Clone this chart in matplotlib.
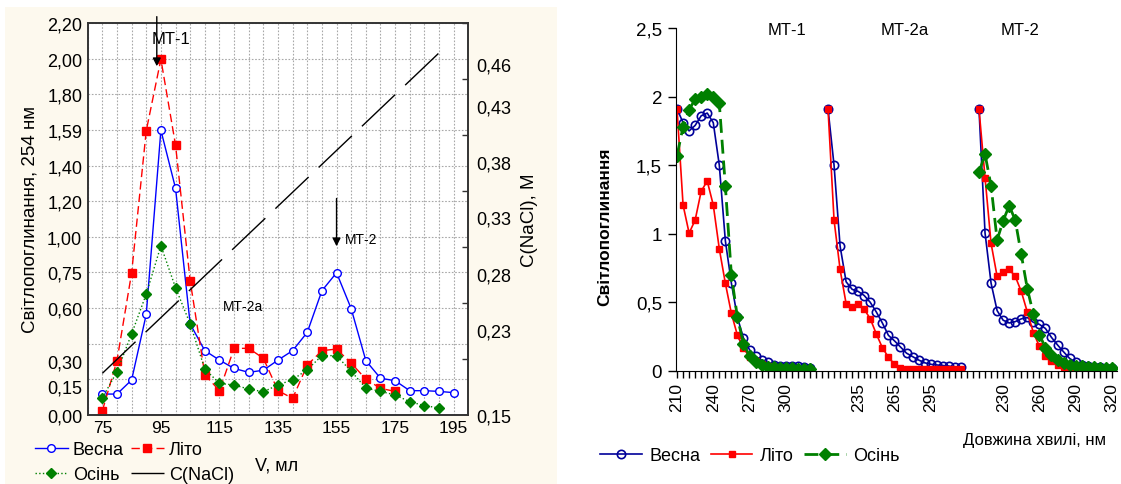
import matplotlib
matplotlib.use('Agg')
import matplotlib.pyplot as plt
import numpy as np
from matplotlib.patches import Rectangle
from matplotlib.ticker import FuncFormatter

plt.rcParams['font.family'] = ['Liberation Sans', 'DejaVu Sans']

# ---- left panel: elution profile ----
volume = [75, 80, 85, 90, 95, 100, 105, 110, 115, 120, 125, 130, 135,
          140, 145, 150, 155, 160, 165, 170, 175, 180, 185, 190, 195]
vesna_abs = [0.116, 0.116, 0.195, 0.564, 1.599, 1.273, 0.51, 0.36, 0.307, 0.26,
             0.238, 0.25, 0.307, 0.36, 0.463, 0.697, 0.798, 0.596, 0.304, 0.205,
             0.191, 0.135, 0.135, 0.131, 0.124]
lito_abs = [0.022, 0.304, 0.797, 1.596, 1.998, 1.516, 0.753, 0.225, 0.135, 0.373,
            0.373, 0.317, 0.135, 0.092, 0.279, 0.36, 0.369, 0.29, 0.2, 0.148, 0.131]
osin_abs = [0.094, 0.242, 0.454, 0.678, 0.95, 0.714, 0.51, 0.257, 0.176, 0.167,
            0.144, 0.129, 0.167, 0.197, 0.253, 0.332, 0.332, 0.244, 0.15, 0.131,
            0.111, 0.073, 0.051, 0.038]
nacl_volume = [75, 193]
nacl_conc = [0.187, 0.481]

left_yticks = [0, 0.163, 0.303, 0.6, 0.8, 1.0, 1.2, 1.4, 1.6, 1.8, 2.0, 2.2]
left_ylabels = ['0,00', '0,15', '0,30', '0,60', '0,75', '1,00', '1,20', '1,40',
                '1,59', '1,80', '2,00', '2,20']
nacl_yticks = [0.15, 0.2257, 0.2758, 0.3265, 0.3757, 0.4263, 0.4636]
nacl_ylabels = ['0,15', '0,23', '0,28', '0,33', '0,38', '0,43', '0,46']

# ---- right panel: absorption spectra of the fractions ----
wavelength = [210, 215, 220, 225, 230, 235, 240, 245, 250, 255, 260, 265,
              270, 275, 280, 285, 290, 295, 300, 305, 310, 315, 320]
fractions = ['МТ-1', 'МТ-2а', 'МТ-2']
vesna_spec = [
    [1.91, 1.81, 1.75, 1.79, 1.86, 1.88, 1.81, 1.50, 0.95, 0.64, 0.39, 0.24,
     0.155, 0.107, 0.08, 0.063, 0.044, 0.04, 0.04, 0.034, 0.034, 0.027, 0.025],
    [1.91, 1.50, 0.91, 0.65, 0.595, 0.58, 0.55, 0.50, 0.43, 0.35, 0.26, 0.22,
     0.175, 0.13, 0.105, 0.08, 0.06, 0.049, 0.044, 0.04, 0.036, 0.03, 0.03],
    [1.91, 1.006, 0.64, 0.44, 0.37, 0.35, 0.36, 0.38, 0.39, 0.355, 0.34, 0.31,
     0.245, 0.19, 0.14, 0.092, 0.063, 0.046, 0.036, 0.03, 0.027, 0.025, 0.025],
]
lito_spec = [
    [1.91, 1.21, 1.005, 1.10, 1.31, 1.385, 1.21, 0.89, 0.64, 0.42, 0.26, 0.17,
     0.10, 0.07, 0.05, 0.04, 0.03, 0.02, 0.02, 0.015, 0.01, 0.01, 0.01],
    [1.91, 1.10, 0.74, 0.49, 0.47, 0.49, 0.45, 0.38, 0.27, 0.17, 0.10, 0.05,
     0.024, 0.017, 0.017, 0.017, 0.017, 0.017, 0.015, 0.012, 0.012, 0.012, 0.012],
    [1.91, 1.41, 0.93, 0.69, 0.72, 0.74, 0.69, 0.58, 0.43, 0.28, 0.18, 0.107,
     0.075, 0.044, 0.03, 0.02, 0.02, 0.015, 0.015, 0.012, 0.012, 0.012, 0.012],
]
osin_spec = [
    [1.57, 1.78, 1.905, 1.98, 2.0, 2.02, 2.0, 1.95, 1.35, 0.70, 0.39, 0.20,
     0.11, 0.063, 0.045, 0.03, 0.03, 0.022, 0.022, 0.02, 0.018, 0.017, 0.015],
    None,
    [1.45, 1.58, 1.35, 0.955, 1.095, 1.205, 1.10, 0.85, 0.60, 0.415, 0.265, 0.17,
     0.117, 0.08, 0.06, 0.046, 0.04, 0.035, 0.03, 0.027, 0.025, 0.025, 0.025],
]

W, H = 1121, 485
fig = plt.figure(figsize=(W / 100, H / 100), dpi=100)
fig.patches.append(Rectangle((5 / W, 0), 552 / W, 477 / H, transform=fig.transFigure,
                             facecolor='#fdf9ee', edgecolor='none', zorder=-5))

# ================= left panel =================
ax1 = fig.add_axes([87.7 / W, 1 - 415.7 / H, 380.6 / W, 391.4 / H])
ax1.set_facecolor('white')
ax1.set_xlim(70, 200)
ax1.set_ylim(0, 2.2)
ax1.set_xticks([75, 95, 115, 135, 155, 175, 195])
ax1.set_xticks(np.arange(70, 201, 5), minor=True)
ax1.set_yticks(left_yticks)
ax1.set_yticklabels(left_ylabels)
ax1.set_yticks(np.arange(0, 2.21, 0.2), minor=True)
ax1.xaxis.remove_overlapping_locs = False
ax1.yaxis.remove_overlapping_locs = False
ax1.grid(which='minor', color='#a8a8a8', lw=0.8, ls=(0, (1.5, 1.5)))
ax1.grid(which='major', visible=False)
ax1.tick_params(which='major', length=0, labelsize=13, pad=4)
ax1.tick_params(axis='x', which='major', labelsize=12.5)
ax1.tick_params(which='minor', length=0)
for s in ax1.spines.values():
    s.set_linewidth(1.4)
    s.set_color('#333333')

l_v, = ax1.plot(volume, vesna_abs, color='#0000ff', lw=1, marker='o', ms=5.5,
                mfc='white', mec='#0000ff', mew=1, label='Весна')
l_l, = ax1.plot(volume[:len(lito_abs)], lito_abs, color='#ff0000', lw=1,
                ls=(0, (6, 3)), marker='s', ms=6, mec='#ff0000', label='Літо')
l_o, = ax1.plot(volume[:len(osin_abs)], osin_abs, color='#008000', lw=1, ls=':',
                marker='D', ms=5.5, mec='#008000', label='Осінь')

ax2 = ax1.twinx()
ax2.set_ylim(0.15, 0.5)
l_n, = ax2.plot(nacl_volume, nacl_conc, color='black', lw=1, ls=(0, (33, 10)),
                label='C(NaCl)')
ax2.set_yticks(nacl_yticks)
ax2.set_yticklabels(nacl_ylabels)
ax2.set_yticks(np.arange(0.15, 0.501, 0.05), minor=True)
ax2.tick_params(which='major', length=0, labelsize=13, pad=6)
ax2.tick_params(which='minor', length=4, direction='in', width=1, color='#333333')
for s in ax2.spines.values():
    s.set_visible(False)

ax1.annotate('', xy=(93.6, 1.943), xytext=(93.6, 2.253), annotation_clip=False,
             arrowprops=dict(arrowstyle='-|>', color='black', lw=1, mutation_scale=12))
ax1.text(98.6, 2.112, 'МТ-1', ha='center', va='center', fontsize=12)
ax1.annotate('', xy=(155, 0.931), xytext=(155, 1.231),
             arrowprops=dict(arrowstyle='-|>', color='black', lw=1, mutation_scale=12))
ax1.text(163.5, 0.988, 'МТ-2', ha='center', va='center', fontsize=10)
ax1.text(123, 0.613, 'МТ-2а', ha='center', va='center', fontsize=10)

fig.text(30 / W, 1 - 220 / H, 'Світлопоглинання, 254 нм', rotation=90,
         ha='center', va='center', fontsize=13.5)
fig.text(530 / W, 1 - 220 / H, 'C(NaCl), M', rotation=90,
         ha='center', va='center', fontsize=13.5)
fig.text(277 / W, 1 - 466 / H, 'V, мл', ha='center', va='center', fontsize=13)

fig.legend([l_v, l_o, l_l, l_n], ['Весна', 'Осінь', 'Літо', 'C(NaCl)'], ncol=2,
           loc='center left', bbox_to_anchor=(35 / W, 1 - 463 / H), frameon=False,
           fontsize=13, handlelength=1.8, handletextpad=0.3, columnspacing=0.4,
           labelspacing=0.45, borderpad=0, borderaxespad=0)

# ================= right panel =================
ax3 = fig.add_axes([676 / W, 1 - 372 / H, 441 / W, 343 / H])
ax3.set_facecolor('none')
n = len(wavelength)
gap = 2
ax3.set_xlim(-0.17, 72.85)
ax3.set_ylim(0, 2.5)

handles = []
for k in range(len(fractions)):
    pos = np.arange(n) + k * (n + gap)
    h1, = ax3.plot(pos, vesna_spec[k], color='#000099', lw=1.2, marker='o', ms=6,
                   mfc='none', mec='#000099', mew=1.2, label='Весна')
    h2, = ax3.plot(pos, lito_spec[k], color='#ff0000', lw=1.2, marker='s', ms=4,
                   mec='#ff0000', label='Літо')
    if osin_spec[k] is not None:
        h3, = ax3.plot(pos, osin_spec[k], color='#008000', lw=2, ls=(0, (5, 2.5)),
                       marker='D', ms=6.3, mec='#008000', label='Осінь')
    ax3.text(k * (n + gap) + [18.2, 12.7, 6.8][k], 2.49, fractions[k],
             ha='center', va='center', fontsize=12, clip_on=False)

ticks = list(range(0, 3 * n + 2 * gap))
labels = []
for p in ticks:
    j = p % (n + gap)
    labels.append(str(wavelength[j]) if (j < n and p % 6 == 0) else '')
ax3.set_xticks(ticks)
ax3.set_xticklabels(labels, rotation=90)
ax3.set_yticks([0, 0.5, 1, 1.5, 2, 2.5])
ax3.yaxis.set_major_formatter(FuncFormatter(lambda v, p: ('%g' % v).replace('.', ',')))
ax3.tick_params(axis='x', length=5, width=1, labelsize=12.5, pad=3)
ax3.tick_params(axis='y', length=6, width=1, labelsize=13.5, pad=4)
ax3.spines['top'].set_visible(False)
ax3.spines['right'].set_visible(False)

fig.text(605 / W, 1 - 227 / H, 'Світлопоглинання', rotation=90, weight='bold',
         ha='center', va='center', fontsize=12.5)
fig.text(1034.5 / W, 1 - 441 / H, 'Довжина хвилі, нм', ha='center', va='center',
         fontsize=12)
fig.legend([h1, h2, h3], ['Весна', 'Літо', 'Осінь'], ncol=3, loc='center',
           bbox_to_anchor=(750 / W, 1 - 457 / H), frameon=False, fontsize=13,
           handlelength=2.3, handletextpad=0.4, columnspacing=0.6, borderpad=0)

fig.savefig('out.png', dpi=100)
